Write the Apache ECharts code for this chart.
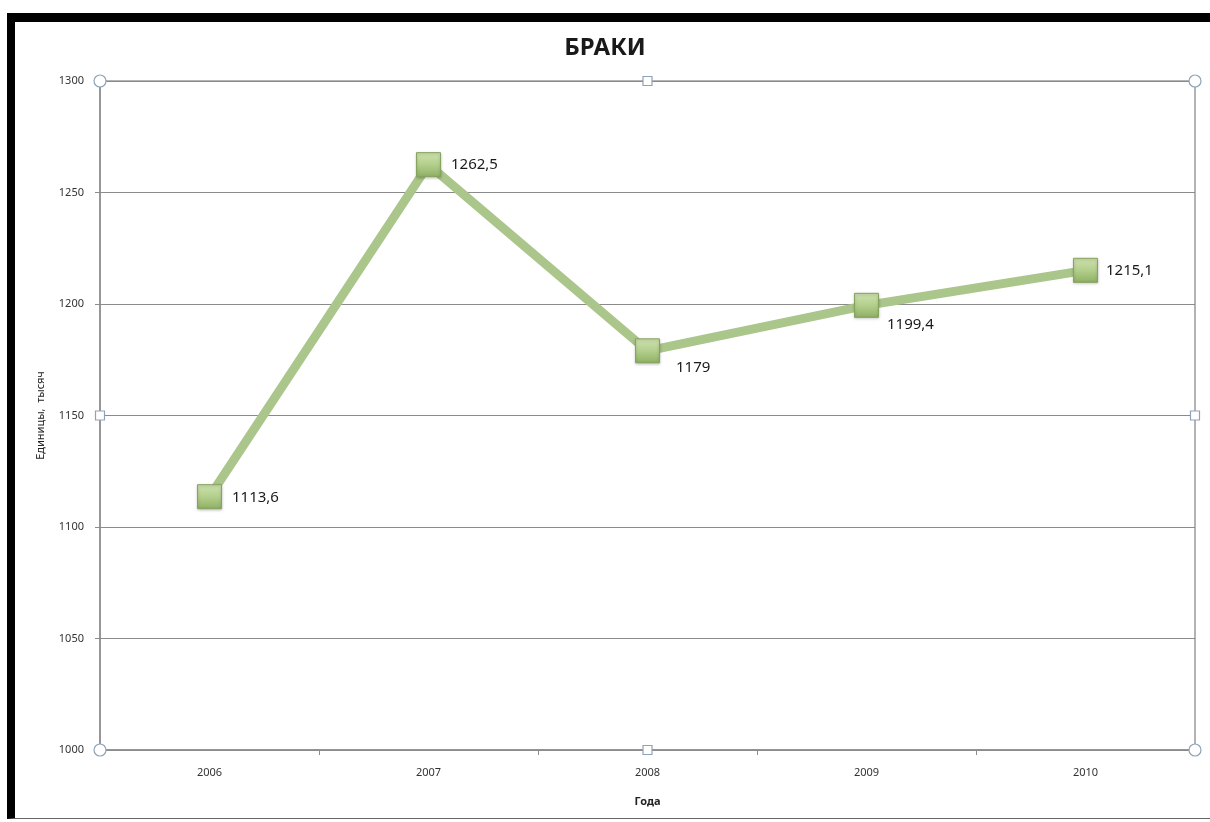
<!DOCTYPE html>
<html>
<head>
<meta charset="utf-8">
<script src="https://cdn.jsdelivr.net/npm/echarts@6/dist/echarts.min.js"></script>
<style>
html,body{margin:0;padding:0;background:#fff;}
#frame{position:absolute;left:7px;top:13px;width:1220px;height:806px;border-top:9px solid #000;border-left:8px solid #000;border-bottom:1px solid #666;box-sizing:border-box;}
#chart{position:absolute;left:0;top:0;width:1210px;height:822px;}
</style>
</head>
<body>
<div id="frame"></div>
<div id="chart"></div>
<script>
const titleText = 'БРАКИ';
const years = ['2006', '2007', '2008', '2009', '2010'];
const marriages = [1113.6, 1262.5, 1179, 1199.4, 1215.1];
const yAxisName = 'Единицы,  тысяч';
const xAxisName = 'Года';
const yMin = 1000, yMax = 1300, yStep = 50;

const fmt = v => String(v).replace('.', ',');

// label placement per point (style, not data)
const labelStyles = [
  {position: 'right', distance: 10, offset: [0, 1]},
  {position: 'right', distance: 10, offset: [0, 0]},
  {position: 'right', distance: 16, offset: [0, 17]},
  {position: 'right', distance: 8, offset: [0, 19]},
  {position: 'right', distance: 8, offset: [0, 0]}
];

const chart = echarts.init(document.getElementById('chart'), null, {renderer: 'canvas'});
const font = '"Noto Sans", "DejaVu Sans", sans-serif';

const option = {
  animation: false,
  backgroundColor: 'transparent',
  title: {
    text: titleText, left: 'center', top: 31,
    textStyle: {fontFamily: font, fontSize: 24, fontWeight: 'bold', color: '#1a1a1a'}
  },
  grid: {left: 100, right: 15, top: 81, bottom: 72, show: true, borderColor: '#9a9a9a', borderWidth: 1.5},
  xAxis: {
    type: 'category', data: years, boundaryGap: true,
    name: xAxisName, nameLocation: 'middle', nameGap: 46,
    nameTextStyle: {fontFamily: font, fontSize: 11, fontWeight: 'bold', color: '#222'},
    axisLine: {lineStyle: {color: '#8c8c8c', width: 1.5}},
    axisTick: {show: true, inside: false, length: 5, alignWithLabel: false, lineStyle: {color: '#8c8c8c'}},
    axisLabel: {fontFamily: font, fontSize: 11, color: '#333', margin: 17}
  },
  yAxis: {
    type: 'value', min: yMin, max: yMax, interval: yStep,
    name: yAxisName, nameLocation: 'middle', nameGap: 54, nameRotate: 90,
    nameTextStyle: {fontFamily: font, fontSize: 11, color: '#222'},
    axisLine: {show: true, lineStyle: {color: '#8c8c8c', width: 1.5}},
    axisTick: {show: true, length: 5, lineStyle: {color: '#8c8c8c'}},
    axisLabel: {fontFamily: font, fontSize: 11, color: '#333', margin: 16, formatter: v => String(v)},
    splitLine: {lineStyle: {color: '#8a8a8a', width: 1.2}}
  },
  series: [{
    type: 'line',
    data: marriages.map((v, i) => ({
      value: v,
      label: Object.assign({show: true, formatter: p => fmt(p.value)}, labelStyles[i])
    })),
    symbol: 'rect', symbolSize: 24,
    lineStyle: {color: '#abc68b', width: 9},
    itemStyle: {
      color: new echarts.graphic.LinearGradient(0, 0, 0, 1, [
        {offset: 0, color: '#cfe2b0'},
        {offset: 0.5, color: '#b3cf8c'},
        {offset: 1, color: '#8fb063'}
      ]),
      borderColor: '#86a35f', borderWidth: 1,
      shadowColor: 'rgba(0,0,0,0.25)', shadowBlur: 3, shadowOffsetY: 1
    },
    label: {fontFamily: font, fontSize: 15, color: '#1a1a1a'},
    z: 3
  }]
};
chart.setOption(option);

// Excel-style selection handles on the plot area
const rect = chart.getModel().getComponent('grid').coordinateSystem.getRect();
const L = rect.x, R = rect.x + rect.width, T = rect.y, B = rect.y + rect.height;
const mx = (L + R) / 2, my = (T + B) / 2;
const hs = {stroke: '#8ea3b8', fill: '#fff', lineWidth: 1.2};
const handles = [];
[[L, T], [R, T], [L, B], [R, B]].forEach(p => handles.push({
  type: 'circle', shape: {cx: p[0], cy: p[1], r: 6}, style: hs, z: 10
}));
[[mx, T], [mx, B], [L, my], [R, my]].forEach(p => handles.push({
  type: 'rect', shape: {x: p[0] - 4.5, y: p[1] - 4.5, width: 9, height: 9}, style: hs, z: 10
}));
chart.setOption({graphic: handles});
</script>
</body>
</html>
